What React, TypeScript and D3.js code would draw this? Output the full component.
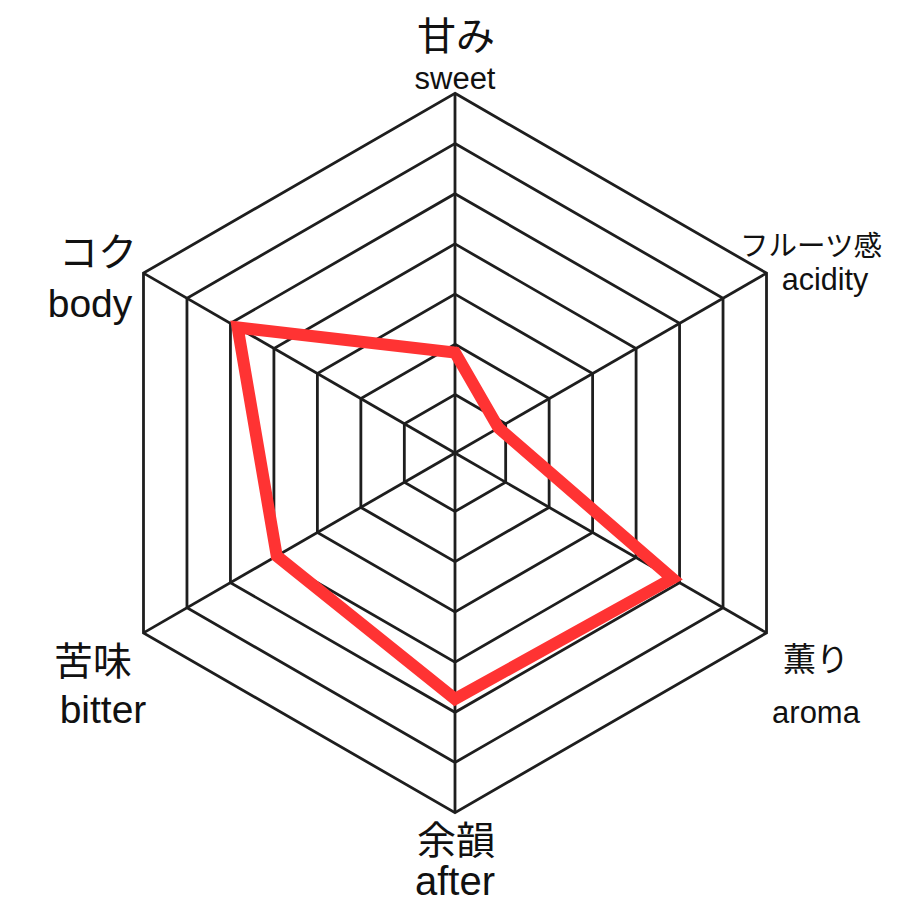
import * as d3 from "d3";

const axes = ["sweet", "acidity", "aroma", "after", "bitter", "body"];
const axisJa = ["甘み", "フルーツ感", "薫り", "余韻", "苦味", "コク"];
const values = [2, 1, 5, 4.9, 4.1, 5];
const levels = [1, 2, 3, 4, 5, 6, 7];

// label placement, page pixels (ja line then en line)
const labelLayout = [
  { ja: [456, 50, 39], en: [455, 89, 31] },
  { ja: [811, 256, 28.5], en: [825, 290, 30.5] },
  { ja: [816, 671, 33], en: [816, 723, 31] },
  { ja: [456, 854, 39], en: [455, 895, 40] },
  { ja: [93, 675, 39], en: [103, 723, 39] },
  { ja: [98, 266, 39], en: [90, 317, 39] },
];

const width = 920;
const height = 920;
const cx = 455;
const cy = 453;
const ringGap = 8.3;

export default function App() {
  const r = d3.scaleLinear().domain([0, 7]).range([0, 351.4]);
  const angle = (i: number) => (i * 2 * Math.PI) / axes.length;

  const ring = d3
    .lineRadial<number>()
    .angle((_, i) => angle(i))
    .radius(d => d)
    .curve(d3.curveLinearClosed);

  const shape = d3
    .lineRadial<number>()
    .angle((_, i) => angle(i))
    .radius(d => r(d))
    .curve(d3.curveLinearClosed);

  const outer = r(7) + ringGap;
  const font = "'Liberation Sans', Arial, 'Noto Sans CJK JP', sans-serif";

  return (
    <svg
      width={width}
      height={height}
      style={{ position: "absolute", left: 0, top: 0, background: "#fff" }}
    >
      <g transform={`translate(${cx},${cy})`}>
        {levels.map(l => (
          <path
            key={l}
            d={ring(axes.map(() => r(l) + ringGap)) ?? ""}
            fill="none"
            stroke="#1e1e1e"
            strokeWidth={2.8}
          />
        ))}
        {axes.map((a, i) => (
          <line
            key={a}
            x1={0}
            y1={0}
            x2={outer * Math.sin(angle(i))}
            y2={-outer * Math.cos(angle(i))}
            stroke="#1e1e1e"
            strokeWidth={2.8}
          />
        ))}
        <path
          d={shape(values) ?? ""}
          fill="none"
          stroke="#ff3333"
          strokeWidth={12}
          strokeLinejoin="miter"
        />
      </g>
      {axes.map((a, i) => {
        const lay = labelLayout[i];
        return (
          <g key={a} fontFamily={font} fill="#111" textAnchor="middle">
            <text x={lay.ja[0]} y={lay.ja[1]} fontSize={lay.ja[2]}>
              {axisJa[i]}
            </text>
            <text x={lay.en[0]} y={lay.en[1]} fontSize={lay.en[2]}>
              {a}
            </text>
          </g>
        );
      })}
    </svg>
  );
}
